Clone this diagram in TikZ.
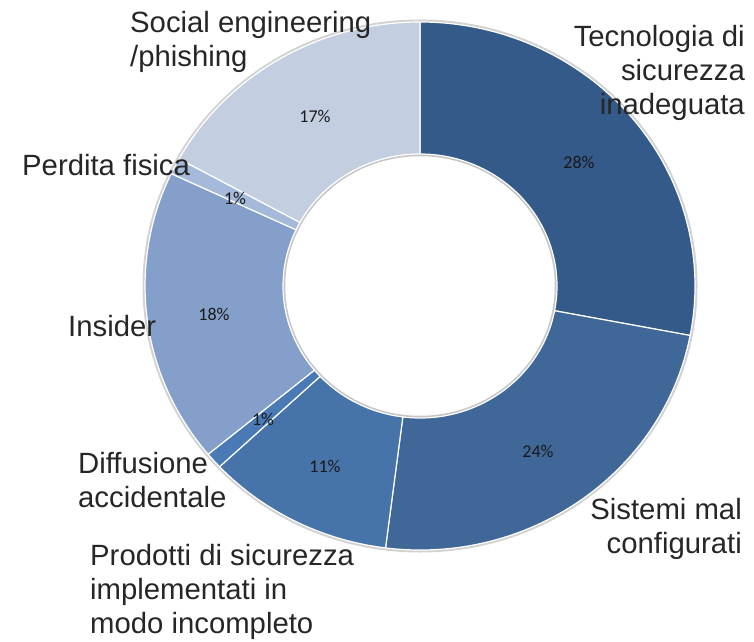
\documentclass[tikz,border=0pt]{standalone}
\usepackage{fontspec}
\setmainfont{Liberation Sans}
\newfontfamily\pctfont{Carlito}
\usetikzlibrary{calc}
\definecolor{ctec}{HTML}{345A8A}
\definecolor{csis}{HTML}{3F6898}
\definecolor{cpro}{HTML}{4674AA}
\definecolor{cdif}{HTML}{4A7AB6}
\definecolor{cins}{HTML}{849FCA}
\definecolor{cper}{HTML}{A5B9DA}
\definecolor{csoc}{HTML}{C4CEE1}
\definecolor{txt}{HTML}{262626}
\newcommand{\ringsector}[3]{%
  \fill[#3, draw=white, line width=1.2pt, line join=round]
    ($(c)+(#1:275 and 264)$) arc[start angle=#1, end angle=#2, x radius=275, y radius=264]
    -- ($(c)+(#2:137 and 132)$) arc[start angle=#2, end angle=#1, x radius=137, y radius=132]
    -- cycle;}
\tikzset{
  pct/.style={font=\pctfont\fontsize{18}{20}\selectfont, text=black!90, inner sep=0pt},
  biglab/.style={font=\fontsize{29.3}{34}\selectfont, text=txt, inner sep=0pt},
}
\begin{document}
\begin{tikzpicture}[x=1pt,y=1pt]
\useasboundingbox (0,0) rectangle (754,641);
\coordinate (c) at (420,355);
% shadow / rim
\draw[gray!35, line width=3pt] (c) ellipse[x radius=276, y radius=265];
\draw[gray!45, line width=2.5pt] (c) ellipse[x radius=136, y radius=131];
\ringsector{90}{-10.8}{ctec}
\ringsector{-10.8}{-97.2}{csis}
\ringsector{-97.2}{-136.8}{cpro}
\ringsector{-136.8}{-140.4}{cdif}
\ringsector{-140.4}{-205.2}{cins}
\ringsector{-205.2}{-208.8}{cper}
\ringsector{-208.8}{-270}{csoc}
% percentages
\node[pct] (p1) at (579,479) {28\%};
\node[pct] (p2) at (538,190) {24\%};
\node[pct] (p3) at (325,175) {11\%};
\node[pct] (p4) at (263,222) {1\%};
\node[pct] (p5) at (214,327) {18\%};
\node[pct] (p6) at (235,443) {1\%};
\node[pct] (p7) at (315,525) {17\%};
% labels
\node[biglab, anchor=base east, align=right] (l1) at (745,526) {Tecnologia di\\sicurezza\\inadeguata};
\node[biglab, anchor=base east, align=right] (l2) at (742,88) {Sistemi mal\\configurati};
\node[biglab, anchor=base west, align=left] (l3) at (90,8) {Prodotti di sicurezza\\implementati in\\modo incompleto};
\node[biglab, anchor=base west, align=left] (l4) at (78,134) {Diffusione\\accidentale};
\node[biglab, anchor=base west] (l5) at (68,305) {Insider};
\node[biglab, anchor=base west] (l6) at (22,465) {Perdita fisica};
\node[biglab, anchor=base west, align=left] (l7) at (130,574) {Social engineering\\/phishing};
\end{tikzpicture}
\end{document}
